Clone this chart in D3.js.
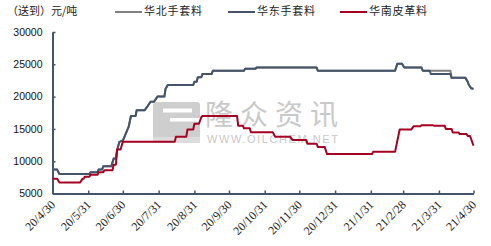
<!DOCTYPE html>
<html>
<head>
<meta charset="utf-8">
<title></title>
<script src="https://d3js.org/d3.v7.min.js"></script>
<style>
  body { margin: 0; background: #fff; }
</style>
</head>
<body>
<div id="vis"></div>
<script>

// shared dates for the two glove series (north + east)
let handDates = [
  "2020-04-30", "2020-05-04", "2020-05-06", "2020-06-01", "2020-06-02", "2020-06-08", "2020-06-09",
  "2020-06-12", "2020-06-13", "2020-06-20", "2020-06-22", "2020-06-24", "2020-06-25", "2020-06-27",
  "2020-06-30", "2020-07-05", "2020-07-07", "2020-07-11", "2020-07-12", "2020-07-19", "2020-07-21",
  "2020-07-24", "2020-07-27", "2020-07-30", "2020-08-05", "2020-08-06", "2020-08-08", "2020-08-30",
  "2020-08-31", "2020-09-02", "2020-09-03", "2020-09-06", "2020-09-07", "2020-09-15", "2020-09-16",
  "2020-10-13", "2020-10-14", "2020-10-23", "2020-10-24", "2020-12-15", "2020-12-16", "2021-02-21",
  "2021-02-23", "2021-02-27", "2021-03-01", "2021-03-16", "2021-03-17", "2021-03-23", "2021-03-24",
  "2021-04-10", "2021-04-11", "2021-04-23", "2021-04-25", "2021-04-26", "2021-04-28", "2021-04-30"
];
let eastValues = [
  8700, 8700, 8000, 8000, 8300, 8300, 8700,
  8700, 9200, 9200, 10400, 10400, 11700, 13000,
  13200, 15300, 17000, 17000, 17900, 17900, 18400,
  19200, 19200, 20000, 20000, 21200, 21800, 21800,
  22300, 22300, 23000, 23000, 23500, 23500, 24000,
  24000, 24300, 24300, 24500, 24500, 24000, 24000,
  25100, 25100, 24500, 24500, 24000, 24000, 23500,
  23500, 22900, 22900, 22300, 21800, 21300, 21200
];
let northValues = [
  8700, 8700, 8000, 8000, 8300, 8300, 8700,
  8700, 9200, 9200, 10400, 10400, 11700, 13000,
  13200, 15300, 17000, 17000, 17900, 17900, 18400,
  19200, 19200, 20000, 20000, 21200, 21800, 21800,
  22300, 22300, 23000, 23000, 23500, 23500, 24000,
  24000, 24300, 24300, 24500, 24500, 24000, 24000,
  25100, 25100, 24500, 24500, 24000, 24000, 24000,
  24000, 22900, 22900, 22300, 21800, 21300, 21200
];

// south leather series
let southDates = [
  "2020-04-30", "2020-05-04", "2020-05-06", "2020-05-24", "2020-05-26", "2020-05-27", "2020-05-28",
  "2020-06-01", "2020-06-02", "2020-06-08", "2020-06-09", "2020-06-13", "2020-06-14", "2020-06-21",
  "2020-06-22", "2020-06-24", "2020-06-25", "2020-06-28", "2020-06-30", "2020-08-14", "2020-08-15",
  "2020-08-24", "2020-08-25", "2020-08-30", "2020-08-31", "2020-09-04", "2020-09-06", "2020-09-07",
  "2020-10-07", "2020-10-08", "2020-10-12", "2020-10-13", "2020-10-18", "2020-10-19", "2020-11-07",
  "2020-11-09", "2020-11-22", "2020-11-24", "2020-12-06", "2020-12-07", "2020-12-15", "2020-12-16",
  "2020-12-22", "2020-12-24", "2021-02-01", "2021-02-02", "2021-02-21", "2021-02-25", "2021-03-07",
  "2021-03-09", "2021-03-15", "2021-03-16", "2021-03-26", "2021-03-27", "2021-04-05", "2021-04-06",
  "2021-04-11", "2021-04-12", "2021-04-17", "2021-04-18", "2021-04-24", "2021-04-25", "2021-04-27",
  "2021-04-30"
];
let southValues = [
  7300, 7300, 6700, 6700, 7300, 7300, 7600,
  7600, 7900, 7900, 8300, 8300, 8600, 8600,
  9400, 9500, 11800, 11800, 13000, 13000, 13800,
  13800, 14900, 14900, 15800, 15800, 16800, 17000,
  17000, 15500, 15500, 15100, 15100, 14500, 14500,
  13800, 13800, 13300, 13300, 12700, 12700, 12200,
  12200, 11100, 11100, 11450, 11450, 14900, 14900,
  15400, 15400, 15550, 15550, 15500, 15500, 15000,
  15000, 14450, 14450, 14200, 14200, 13900, 13900,
  12400
];

let seriesNames = ["华北手套料", "华东手套料", "华南皮革料"];
let seriesColors = ["#808080", "#44546a", "#a50021"];
let monthTicks = [
  "2020-04-30", "2020-05-31", "2020-06-30", "2020-07-31", "2020-08-31", "2020-09-30", "2020-10-31",
  "2020-11-30", "2020-12-31", "2021-01-31", "2021-02-28", "2021-03-31", "2021-04-30"
];
let yTicks = [5000, 10000, 15000, 20000, 25000, 30000];

let parse = d3.timeParse("%Y-%m-%d");
let width = 491, height = 246;

let svg = d3.select("#vis").append("svg")
  .attr("width", width)
  .attr("height", height)
  .style("display", "block");

let x = d3.scaleTime()
  .domain([parse("2020-04-30"), parse("2021-04-30")])
  .range([52.5, 473.5]);
let y = d3.scaleLinear()
  .domain([5000, 30000])
  .range([193.5, 32]);

// watermark, sits under the lines
let wm = svg.append("g").attr("opacity", 0.85);
wm.append("rect").attr("x", 153).attr("y", 102).attr("width", 47).attr("height", 41).attr("rx", 3).attr("fill", "#c6c6c6");
wm.append("rect").attr("x", 153).attr("y", 137).attr("width", 47).attr("height", 6).attr("fill", "#d6d6d6");
wm.append("rect").attr("x", 163).attr("y", 108.5).attr("width", 29).attr("height", 4).attr("fill", "#fff");
wm.append("rect").attr("x", 170).attr("y", 118).attr("width", 30).attr("height", 3.5).attr("fill", "#fff");
wm.append("text")
  .attr("x", 205).attr("y", 125)
  .attr("textLength", 133).attr("lengthAdjust", "spacing")
  .style("font-family", "'Noto Sans CJK SC', sans-serif")
  .style("font-size", "28px")
  .attr("fill", "#c0c0c0")
  .text("隆众资讯");
wm.append("text")
  .attr("x", 207).attr("y", 143)
  .attr("textLength", 131).attr("lengthAdjust", "spacing")
  .style("font-family", "'Liberation Sans', Arial, sans-serif")
  .style("font-size", "11px")
  .attr("fill", "#c0c0c0")
  .text("WWW.OILCHEM.NET");

// axes
let xAxis = d3.axisBottom(x)
  .tickValues(monthTicks.map(parse))
  .tickSizeInner(-3)
  .tickSizeOuter(0)
  .tickFormat(d => `${d.getFullYear() % 100}/${d.getMonth() + 1}/${d.getDate()}`);

let gx = svg.append("g")
  .attr("transform", `translate(0,${y(5000)})`)
  .call(xAxis);
gx.select(".domain").attr("stroke", "#44546a").attr("stroke-width", 2);
gx.selectAll(".tick line").attr("stroke", "#44546a").attr("stroke-width", 1.5);
gx.selectAll(".tick text")
  .attr("y", 0).attr("dy", 0)
  .attr("text-anchor", "end")
  .attr("transform", "translate(3,12) rotate(-45)")
  .style("font-family", "'Liberation Serif', 'Times New Roman', serif")
  .style("font-size", "12px")
  .attr("fill", "#222");

let yAxis = d3.axisLeft(y)
  .tickValues(yTicks)
  .tickSizeInner(-3)
  .tickSizeOuter(0)
  .tickPadding(10)
  .tickFormat(d3.format("d"));

let gy = svg.append("g")
  .attr("transform", `translate(${x.range()[0]},0)`)
  .call(yAxis);
gy.select(".domain").attr("stroke", "#44546a").attr("stroke-width", 2);
gy.selectAll(".tick line").attr("stroke", "#44546a").attr("stroke-width", 1.5);
gy.selectAll(".tick text")
  .style("font-family", "'Liberation Sans', Arial, sans-serif")
  .style("font-size", "10.5px")
  .attr("fill", "#111");

// lines
let line = d3.line()
  .x(d => x(d.date))
  .y(d => y(d.value));

let seriesData = [
  handDates.map((d, i) => ({date: parse(d), value: northValues[i]})),
  handDates.map((d, i) => ({date: parse(d), value: eastValues[i]})),
  southDates.map((d, i) => ({date: parse(d), value: southValues[i]}))
];

svg.selectAll("path.series")
  .data(seriesData)
  .join("path")
  .attr("class", "series")
  .attr("d", line)
  .attr("fill", "none")
  .attr("stroke", (d, i) => seriesColors[i])
  .attr("stroke-width", 2)
  .attr("stroke-linejoin", "round");

// title + legend
svg.append("text")
  .attr("x", 7).attr("y", 14.5)
  .style("font-family", "'Noto Sans CJK SC', sans-serif")
  .style("font-size", "11px")
  .attr("fill", "#222")
  .text("（送到）元/吨");

let legendX = [115, 228, 340];
let legend = svg.selectAll("g.legend")
  .data(seriesNames)
  .join("g")
  .attr("class", "legend")
  .attr("transform", (d, i) => `translate(${legendX[i]},12)`);
legend.append("line")
  .attr("x1", 0).attr("x2", 27)
  .attr("stroke", (d, i) => seriesColors[i])
  .attr("stroke-width", 2);
legend.append("text")
  .attr("x", 29).attr("y", 2.5)
  .attr("textLength", 58).attr("lengthAdjust", "spacing")
  .style("font-family", "'Noto Sans CJK SC', sans-serif")
  .style("font-size", "11px")
  .attr("fill", "#222")
  .text(d => d);

</script>
</body>
</html>
